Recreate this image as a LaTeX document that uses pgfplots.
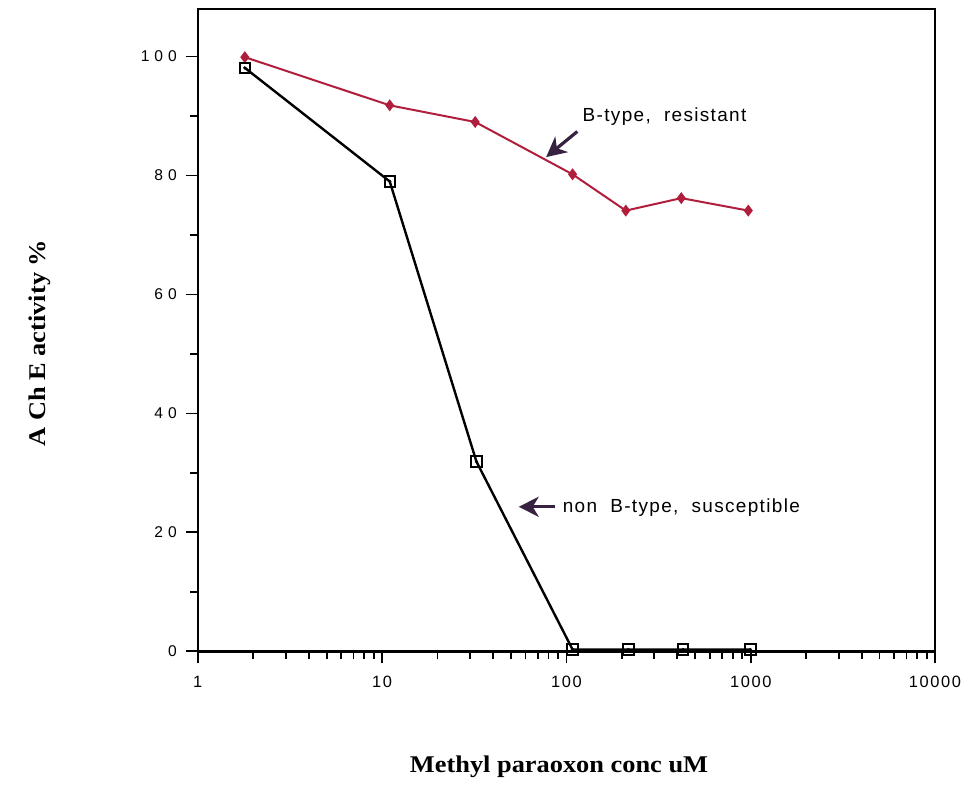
\documentclass[border=0pt]{standalone}
\usepackage{fontspec}
\setmainfont{Liberation Sans}
\newfontfamily\labfont[FakeStretch=1.1]{Liberation Serif}
\newfontfamily\ytfont[LetterSpace=32]{Liberation Sans}
\newfontfamily\xtfont[LetterSpace=10]{Liberation Sans}
\newfontfamily\notefont[LetterSpace=7]{Liberation Sans}
\usepackage{pgfplots}
\pgfplotsset{compat=1.18}
\usetikzlibrary{arrows.meta}
\definecolor{resred}{RGB}{176,30,60}
\definecolor{arrowc}{RGB}{55,35,65}

\begin{document}
\begin{tikzpicture}
\begin{axis}[
  scale only axis,
  width=369pt, height=321.5pt,
  xmode=log, xmin=1, xmax=10000,
  ymin=0, ymax=108,
  xtick={1,10,100,1000,10000},
  xticklabels={1,10,100,1000,10000},
  ytick={0,20,40,60,80,100},
  minor ytick={10,30,50,70,90},
  tick align=outside, xtick pos=bottom, ytick pos=left,
  major tick length=6pt, minor tick length=4pt,
  axis line style={line width=1.2pt},
  every tick/.style={black, line width=0.9pt},
  /pgf/number format/assume math mode=true,
  yticklabel style={font=\ytfont\fontsize{7.8}{9}\selectfont, xshift=-1pt},
  xticklabel style={font=\xtfont\fontsize{8.2}{9}\selectfont, yshift=-3pt},
  xlabel={Methyl paraoxon conc uM},
  ylabel={A Ch E activity \%},
  xlabel style={font=\labfont\bfseries\fontsize{12}{14}\selectfont,
    at={(axis description cs:0.49,-0.180)}, anchor=center},
  ylabel style={font=\labfont\bfseries\fontsize{12}{14}\selectfont,
    at={(axis description cs:-0.214,0.48)}, anchor=center},
  clip=false,
]
% B-type, resistant
\addplot[resred, line width=1pt, mark=diamond*, mark size=2.2pt,
  mark options={solid, fill=resred}] coordinates {
  (1.8,99.9) (11,91.8) (32,89.0) (108,80.2) (210,74.1) (420,76.2) (970,74.1)
};
% non B-type, susceptible
\addplot[black, line width=1.2pt, mark=square, mark size=2.6pt,
  mark options={solid, fill=white, line width=1pt}] coordinates {
  (1.8,98.1) (11,79.0) (32.5,31.9) (108,0.3) (217,0.3) (430,0.3) (995,0.3)
};
\addplot[only marks, black, mark=*, mark size=0.6pt] coordinates {
  (1.8,98.1) (11,79.0) (32.5,31.9) (108,0.3) (217,0.3) (430,0.3) (995,0.3)
};
\draw[arrowc, line width=1.6pt, -{Stealth[length=10pt,width=10pt,inset=3pt]}]
  (axis cs:114.6,87.4) -- (axis cs:77.6,83.1);
\node[anchor=west, inner sep=0pt, font=\notefont\fontsize{9.5}{11}\selectfont]
  at (axis cs:122,89.9) {B-type,\ \ resistant};
\draw[arrowc, line width=1.6pt, -{Stealth[length=10pt,width=10pt,inset=3pt]}]
  (axis cs:87.2,24.3) -- (axis cs:55.1,24.3);
\node[anchor=west, inner sep=0pt, font=\notefont\fontsize{9.5}{11}\selectfont]
  at (axis cs:95.1,24.2) {non\ \ B-type,\ \ susceptible};
\end{axis}
\path ([xshift=-99pt,yshift=-66pt]current axis.south west)
  rectangle ([xshift=17pt,yshift=4.5pt]current axis.north east);
\end{tikzpicture}
\end{document}
